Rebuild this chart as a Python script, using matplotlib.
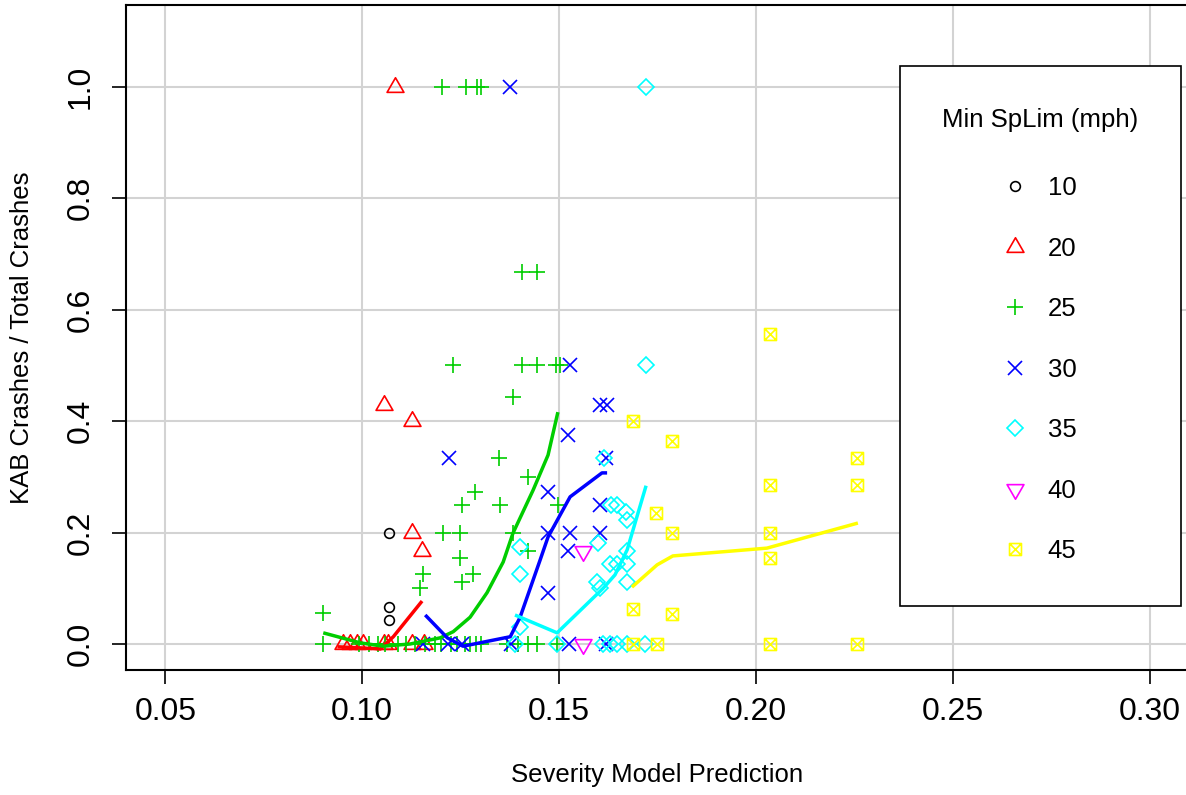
#! /usr/bin/env python3

import numpy as np
import matplotlib
matplotlib.use('Agg')
import matplotlib.pyplot as plt
from matplotlib.path import Path
from matplotlib.lines import Line2D

plt.rcParams['font.family'] = ['Liberation Sans', 'DejaVu Sans']

# points per minimum speed limit group
sp10_x = [0.1069, 0.1069, 0.1069]
sp10_y = [0.200, 0.0667, 0.0435]

sp20_x = [0.1084, 0.1056, 0.1127, 0.1127, 0.1152,
          0.0952, 0.0970, 0.0987, 0.1001, 0.1056, 0.1066, 0.1127, 0.1158]
sp20_y = [1.0, 0.429, 0.4, 0.2, 0.167,
          0, 0, 0, 0, 0, 0, 0, 0]

sp25_x = [0.1203, 0.1264, 0.1292, 0.1302,
          0.1406, 0.1444,
          0.1231, 0.1406, 0.1444, 0.1492, 0.1503,
          0.1383, 0.1348, 0.1421, 0.1287,
          0.1254, 0.1350, 0.1497,
          0.1206, 0.1249, 0.1383,
          0.1421, 0.1249, 0.1155, 0.1282, 0.1254, 0.1147, 0.0901,
          0.0901, 0.0993, 0.1018, 0.1040, 0.1058, 0.1090, 0.1110, 0.1135,
          0.1160, 0.1185, 0.1200, 0.1225, 0.1240, 0.1260, 0.1275, 0.1290,
          0.1302, 0.1368, 0.1395, 0.1420, 0.1444, 0.1495]
sp25_y = [1.0, 1.0, 1.0, 1.0,
          0.667, 0.667,
          0.5, 0.5, 0.5, 0.5, 0.5,
          0.444, 0.333, 0.3, 0.273,
          0.25, 0.25, 0.25,
          0.2, 0.2, 0.2,
          0.167, 0.154, 0.125, 0.125, 0.111, 0.1, 0.056,
          0, 0, 0, 0, 0, 0, 0, 0,
          0, 0, 0, 0, 0, 0, 0, 0,
          0, 0, 0, 0, 0, 0]

sp30_x = [0.1376, 0.1528, 0.1604, 0.1622, 0.1523, 0.1221, 0.1619, 0.1472,
          0.1604, 0.1472, 0.1528, 0.1604, 0.1523, 0.1472,
          0.1155, 0.1218, 0.1254, 0.1378, 0.1525, 0.1620]
sp30_y = [1.0, 0.5, 0.429, 0.429, 0.375, 0.333, 0.333, 0.273,
          0.25, 0.2, 0.2, 0.2, 0.167, 0.0909,
          0, 0, 0, 0, 0, 0]

sp35_x = [0.1721, 0.1721, 0.1614, 0.1632, 0.1647, 0.1670, 0.1673, 0.1599,
          0.1401, 0.1673, 0.1629, 0.1647, 0.1673, 0.1401, 0.1596, 0.1604,
          0.1673, 0.1401,
          0.1388, 0.1495, 0.1612, 0.1629, 0.1647, 0.1673, 0.1718]
sp35_y = [1.0, 0.5, 0.333, 0.25, 0.25, 0.237, 0.222, 0.182,
          0.174, 0.167, 0.143, 0.143, 0.143, 0.125, 0.111, 0.1,
          0.111, 0.031,
          0, 0, 0, 0, 0, 0, 0]

sp40_x = [0.1561, 0.1561]
sp40_y = [0.167, 0]

sp45_x = [0.2036, 0.1688, 0.1787, 0.2256, 0.2036, 0.2256, 0.1746, 0.1787,
          0.2036, 0.2036, 0.1688, 0.1787,
          0.1688, 0.1748, 0.2036, 0.2256]
sp45_y = [0.556, 0.4, 0.364, 0.333, 0.286, 0.286, 0.235, 0.2,
          0.2, 0.154, 0.0625, 0.053,
          0, 0, 0, 0]

# smoothed trend lines
ln20_x = [0.0937, 0.0995, 0.1046, 0.1079, 0.1152]
ln20_y = [-0.005, -0.007, -0.009, 0.013, 0.077]

ln25_x = [0.0901, 0.0995, 0.1053, 0.1122, 0.1198, 0.1231, 0.1274, 0.1317,
          0.1358, 0.1383, 0.1434, 0.1472, 0.1497]
ln25_y = [0.020, 0.002, -0.004, 0.000, 0.011, 0.022, 0.048, 0.092,
          0.147, 0.199, 0.276, 0.339, 0.416]

ln30_x = [0.1160, 0.1216, 0.1256, 0.1376, 0.1401, 0.1452, 0.1472, 0.1528,
          0.1609, 0.1622]
ln30_y = [0.052, 0.011, -0.004, 0.013, 0.048, 0.151, 0.192, 0.264,
          0.307, 0.307]

ln35_x = [0.1388, 0.1495, 0.1612, 0.1642, 0.1673, 0.1721]
ln35_y = [0.052, 0.020, 0.100, 0.124, 0.169, 0.284]

ln45_x = [0.1685, 0.1749, 0.1789, 0.2028, 0.2259]
ln45_y = [0.102, 0.142, 0.158, 0.172, 0.217]

labels = ['10', '20', '25', '30', '35', '40', '45']
colors = ['black', '#FF0000', '#00CD00', '#0000FF', '#00FFFF', '#FF00FF', '#FFFF00']

tri_up = Path([(-1, -0.577), (1, -0.577), (0, 1.155), (-1, -0.577)],
              [Path.MOVETO, Path.LINETO, Path.LINETO, Path.CLOSEPOLY])
tri_down = Path([(-1, 0.577), (1, 0.577), (0, -1.155), (-1, 0.577)],
                [Path.MOVETO, Path.LINETO, Path.LINETO, Path.CLOSEPOLY])
box_x = Path([(-1, -1), (1, -1), (1, 1), (-1, 1), (-1, -1),
              (-1, -1), (1, 1), (-1, 1), (1, -1)],
             [Path.MOVETO, Path.LINETO, Path.LINETO, Path.LINETO, Path.CLOSEPOLY,
              Path.MOVETO, Path.LINETO, Path.MOVETO, Path.LINETO])

markers = ['o', tri_up, '+', 'x', 'D', tri_down, box_x]
sizes = [7, 14, 12, 9.4, 8, 14, 8.6]


def style(i):
    return dict(linestyle='none', marker=markers[i], markersize=sizes[i],
                markerfacecolor='none', markeredgecolor=colors[i],
                markeredgewidth=1.2)


fig = plt.figure(figsize=(11.86, 7.95), dpi=100)
ax = fig.add_axes([126 / 1186, 125 / 795, 1063 / 1186, 665 / 795])

groups = [(sp10_x, sp10_y), (sp20_x, sp20_y), (sp25_x, sp25_y), (sp30_x, sp30_y),
          (sp35_x, sp35_y), (sp40_x, sp40_y), (sp45_x, sp45_y)]
for i, (gx, gy) in enumerate(groups):
    ax.plot(gx, gy, zorder=3, **style(i))

trends = [(1, ln20_x, ln20_y), (2, ln25_x, ln25_y), (3, ln30_x, ln30_y),
          (4, ln35_x, ln35_y), (6, ln45_x, ln45_y)]
for i, lx, ly in trends:
    ax.plot(lx, ly, color=colors[i], lw=2.5, zorder=4, solid_capstyle='butt')

ax.set_xlim(0.04, 0.31)
ax.set_ylim(-0.0467, 1.1466)
ax.set_xticks([0.05, 0.10, 0.15, 0.20, 0.25, 0.30])
ax.set_xticklabels(['0.05', '0.10', '0.15', '0.20', '0.25', '0.30'])
ax.set_yticks([0.0, 0.2, 0.4, 0.6, 0.8, 1.0])
ax.set_yticklabels(['0.0', '0.2', '0.4', '0.6', '0.8', '1.0'],
                   rotation=90, va='center')
ax.grid(True, color='#D3D3D3', lw=1.5)
ax.set_axisbelow(True)
ax.tick_params(direction='out', length=10, width=1.2, labelsize=23, color='black')
ax.tick_params(axis='x', pad=9.4)
ax.tick_params(axis='y', pad=11.9)
for s in ax.spines.values():
    s.set_linewidth(1.5)

fig.text(657.5 / 1186, 1 - 775 / 795, 'Severity Model Prediction',
         ha='center', va='center', fontsize=18.5)
fig.text(22 / 1186, 1 - 338 / 795, 'KAB Crashes / Total Crashes',
         ha='center', va='center', rotation=90, fontsize=18.5)

handles = [Line2D([], [], **style(i)) for i in range(len(labels))]
leg = ax.legend(handles, labels, title='Min SpLim (mph)', loc='upper left',
                bbox_to_anchor=(900 / 1186, 1 - 66 / 795),
                bbox_transform=fig.transFigure, borderaxespad=0,
                fontsize=18.5, title_fontsize=18.5, handlelength=0.78,
                handletextpad=0.9, borderpad=1.65, labelspacing=1.42,
                fancybox=False, framealpha=1, edgecolor='black', numpoints=1)
leg.get_frame().set_linewidth(1.2)
# wider gap between the title and the first entry
leg._legend_box.sep = 31.6

fig.savefig('out.png', dpi=100)
